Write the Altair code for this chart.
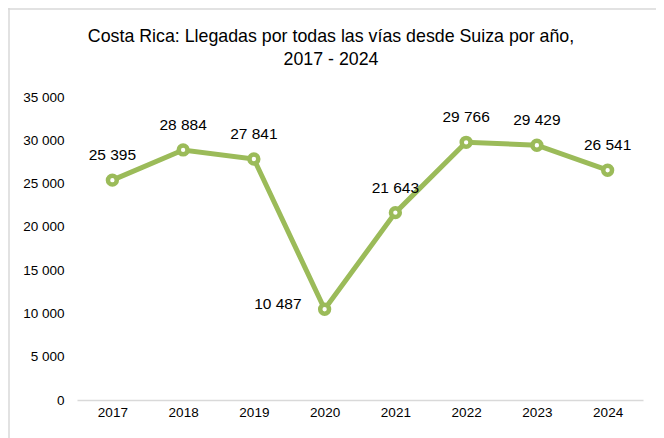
import altair as alt
import pandas as pd

years = ["2017", "2018", "2019", "2020", "2021", "2022", "2023", "2024"]
values = [25395, 28884, 27841, 10487, 21643, 29766, 29429, 26541]
labels = ["25 395", "28 884", "27 841", "10 487", "21 643", "29 766", "29 429", "26 541"]
left_label_years = ["2020"]
title_lines = ["Costa Rica: Llegadas por todas las vías desde Suiza por año,", "2017 - 2024"]

df = pd.DataFrame({"year": years, "value": values, "label": labels})
df["side"] = ["left" if y in left_label_years else "top" for y in years]

GREEN = "#9BBB59"
FONT = "Liberation Sans"

x = alt.X("year:O", title=None, sort=years,
          scale=alt.Scale(type="point", padding=0.5),
          axis=alt.Axis(labelAngle=0, domainColor="#d9d9d9", domainWidth=1.5, ticks=False,
                        labelFont=FONT, labelFontSize=13.5, labelColor="#000000", labelPadding=5))
y = alt.Y("value:Q", title=None,
          scale=alt.Scale(domain=[0, 35000], nice=False),
          axis=alt.Axis(values=[0, 5000, 10000, 15000, 20000, 25000, 30000, 35000],
                        grid=False, domain=False, ticks=False,
                        labelExpr="replace(format(datum.value, ','), ',', ' ')",
                        labelFont=FONT, labelFontSize=13.5, labelColor="#000000", labelPadding=13))

base = alt.Chart(df).encode(x=x, y=y)

line = base.mark_line(color=GREEN, strokeWidth=5)
points = base.mark_point(shape="circle", filled=True, fill="white", stroke=GREEN,
                         strokeWidth=4.5, size=78, opacity=1)
text_top = base.mark_text(font=FONT, fontSize=15.5, color="#000000", dy=-25, baseline="middle").encode(
    text="label:N").transform_filter(alt.datum.side == "top")
text_left = base.mark_text(font=FONT, fontSize=15.5, color="#000000", dx=-23, dy=-5, align="right",
                           baseline="middle").encode(text="label:N").transform_filter(alt.datum.side == "left")

one = pd.DataFrame({"k": [0]})
title1 = alt.Chart(one).mark_text(font=FONT, fontSize=17.8, color="#000000", baseline="middle").encode(
    x=alt.value(254), y=alt.value(-60), text=alt.value(title_lines[0]))
title2 = alt.Chart(one).mark_text(font=FONT, fontSize=17.8, color="#000000", baseline="middle").encode(
    x=alt.value(254), y=alt.value(-37), text=alt.value(title_lines[1]))

border = alt.Chart(one).mark_rule(color="#d9d9d9", strokeWidth=1.5).encode(
    x=alt.value(-69), x2=alt.value(579), y=alt.value(-88))
border_left = alt.Chart(one).mark_rule(color="#d9d9d9", strokeWidth=1.5).encode(
    x=alt.value(-68), y=alt.value(-89), y2=alt.value(341))

chart = alt.layer(border, border_left, title1, title2, line, points, text_top, text_left).properties(
    width=566, height=303,
    autosize=alt.AutoSizeParams(type="none"),
    padding={"left": 69, "top": 89, "right": 13, "bottom": 38},
).configure(background="white").configure_view(strokeWidth=0)

chart.save("out.html", embed_options={"renderer": "svg", "actions": False})
